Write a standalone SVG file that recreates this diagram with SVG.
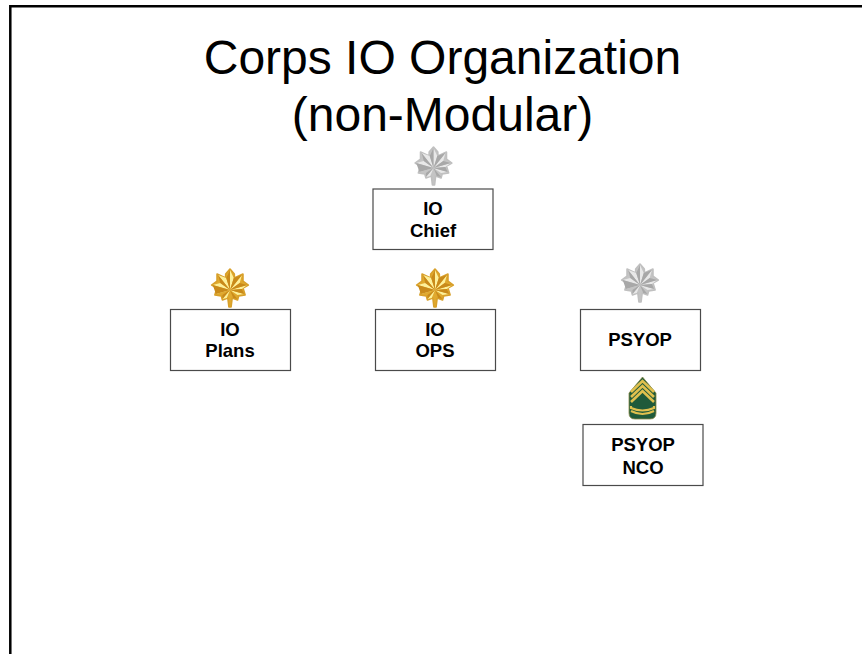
<svg xmlns="http://www.w3.org/2000/svg" xmlns:xlink="http://www.w3.org/1999/xlink" width="862" height="654" viewBox="0 0 862 654">
<style>
.box{fill:#fff;stroke:#4a4a4a;stroke-width:1.2}
.lbl{font-family:"Liberation Sans",Arial,sans-serif;font-weight:700;font-size:18.500px;fill:#000;text-anchor:middle}
.title{font-family:"Liberation Sans",Arial,sans-serif;font-size:48px;fill:#000;text-anchor:middle}
</style>
<defs>
<path id="leafShape" stroke-width="1.500" stroke-linejoin="round" d="M0,-19 L4,-14 L4,-10 L12,-14 L12,-7 L17,-3 L12,0 L14,7 L8,8 L7,12 L2,10 L1,19 L-1,19 L-2,10 L-7,12 L-8,8 L-14,7 L-12,0 L-17,-3 L-12,-7 L-12,-14 L-4,-10 L-4,-14 Z"/>
<path id="leafLight" d="M0,2 L0,-18 L3.500,-10 Z M0,2 L11,-13 L9,-5 Z M0,2 L16,-3 L11,1 Z M0,2 L13,6 L7,7 Z M0,2 L-3,10 L-7,11 Z M0,2 L-13,6 L-11,1 Z M0,2 L-16,-3 L-9,-5 Z M0,2 L-11,-13 L-3.500,-10 Z"/>
<path id="leafDark" d="M0,2 L0,-18 L-3.500,-10 Z M0,2 L11,-13 L3.500,-10 Z M0,2 L16,-3 L9,-5 Z M0,2 L13,6 L11,1 Z M0,2 L7,11 L3,10 Z M0,2 L-7,11 L-7,7 Z M0,2 L-13,6 L-16,-3 Z M0,2 L-11,-13 L-9,-5 Z"/>
<g id="gold" transform="scale(1.08,1)">
<use xlink:href="#leafShape" fill="#e0a92e" stroke="#d8a02a"/>
<use xlink:href="#leafLight" fill="#fdf09a"/>
<use xlink:href="#leafDark" fill="#c98a1a"/>
</g>
<g id="silver" transform="scale(1.08,1)">
<use xlink:href="#leafShape" fill="#c4c4c4" stroke="#c0c0c0"/>
<use xlink:href="#leafLight" fill="#e8e8e8"/>
<use xlink:href="#leafDark" fill="#a8a8a8"/>
</g>
</defs>
<rect width="862" height="654" fill="#fff"/>
<path d="M10.300,654 V6.200 H862" fill="none" stroke="#000" stroke-width="2.500"/>
<g id="title">
<text class="title" x="442.500" y="73.500">Corps IO Organization</text>
<text class="title" x="442.500" y="131">(non-Modular)</text>
</g>
<g id="connectors"></g>
<g id="node-io-chief">
<use xlink:href="#silver" x="433.500" y="166"/>
<rect class="box" x="373" y="189" width="120" height="60.500"/>
<text class="lbl" x="433" y="215">IO</text>
<text class="lbl" x="433" y="237">Chief</text>
</g>
<g id="node-io-plans">
<use xlink:href="#gold" x="230" y="288"/>
<rect class="box" x="170.500" y="309.500" width="120" height="61"/>
<text class="lbl" x="230" y="336">IO</text>
<text class="lbl" x="230" y="357">Plans</text>
</g>
<g id="node-io-ops">
<use xlink:href="#gold" x="435" y="288"/>
<rect class="box" x="375.500" y="309.500" width="120" height="61"/>
<text class="lbl" x="435" y="336">IO</text>
<text class="lbl" x="435" y="357">OPS</text>
</g>
<g id="node-psyop">
<use xlink:href="#silver" x="640" y="283"/>
<rect class="box" x="580.500" y="309.500" width="120" height="61"/>
<text class="lbl" x="640" y="346">PSYOP</text>
</g>
<g id="node-psyop-nco">
<g id="msg-insignia">
<path d="M642.500,377 L656,393 V413 Q656,419 650,419 H635 Q629,419 629,413 V393 Z" fill="#1f5a3a" stroke="#8a8a4a" stroke-width="0.800"/>
<path d="M631,392 L642.500,381 L654,392 M631,397 L642.500,386 L654,397 M631,402 L642.500,391 L654,402" stroke="#e0c04e" stroke-width="2.600" fill="none"/>
<path d="M631,406 L631,408 Q642.500,413 654,408 L654,406 M631,411 Q642.500,417 654,411" stroke="#e0c04e" stroke-width="2.200" fill="none"/>
</g>
<rect class="box" x="583" y="424.500" width="120" height="61"/>
<text class="lbl" x="643" y="451">PSYOP</text>
<text class="lbl" x="643" y="474">NCO</text>
</g>
</svg>
